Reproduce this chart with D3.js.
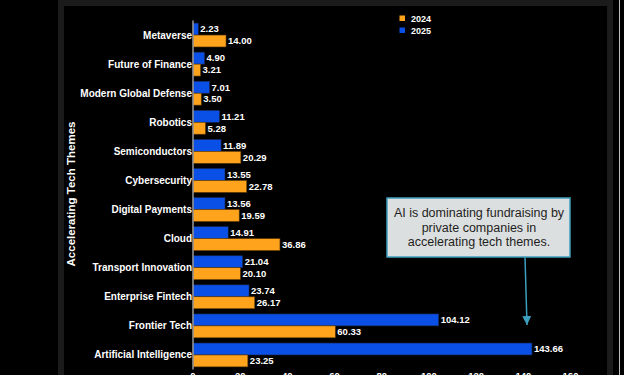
<!DOCTYPE html>
<html>
<head>
<meta charset="utf-8">
<script src="https://cdn.jsdelivr.net/npm/d3@7"></script>
<style>
  html, body { margin: 0; padding: 0; background: #000; }
  svg { display: block; }
  .catLabel, .valLabel, .tickLabel, .legendLabel, .axisTitle { font-family: "Liberation Sans", Arial, sans-serif; font-weight: bold; fill: #fff; }
</style>
</head>
<body>
<div id="chart"></div>
<script>
// categories top to bottom
var themes = ["Metaverse", "Future of Finance", "Modern Global Defense", "Robotics", "Semiconductors",
    "Cybersecurity", "Digital Payments", "Cloud", "Transport Innovation", "Enterprise Fintech",
    "Frontier Tech", "Artificial Intelligence"];
var values2025 = [2.23, 4.90, 7.01, 11.21, 11.89, 13.55, 13.56, 14.91, 21.04, 23.74, 104.12, 143.66];
var values2024 = [14.00, 3.21, 3.50, 5.28, 20.29, 22.78, 19.59, 36.86, 20.10, 26.17, 60.33, 23.25];
var xTicks = [0, 20, 40, 60, 80, 100, 120, 140, 160];
var seriesNames = ["2024", "2025"];
var noteLines = ["AI is dominating fundraising by", "private companies in", "accelerating tech themes."];

var w = 624;
var h = 375;
var orange = "#ffa21c";
var blue = "#0b50e6";

var svg = d3.select("#chart").append("svg").attr("width", w).attr("height", h);

// dark frame around the slide area
svg.append("rect").attr("x", 58).attr("y", -10).attr("width", 555).attr("height", h + 20).attr("fill", "#1b1b1b");
svg.append("rect").attr("x", 64).attr("y", 6).attr("width", 543).attr("height", h).attr("fill", "#000");
svg.append("rect").attr("x", 619).attr("y", 0).attr("width", 1).attr("height", h).attr("fill", "#bdbdbd");

var xScale = d3.scaleLinear().domain([0, 160]).range([193, 570.5]);
var yScale = d3.scaleBand().domain(themes).range([20.5, 369.5]).paddingInner(0.18).paddingOuter(0.09);
var sub = d3.scaleBand().domain(["2025", "2024"]).range([0, yScale.bandwidth()]);

var rows = themes.map(function(t, i) {
    return { theme: t, v2025: values2025[i], v2024: values2024[i] };
});

// bars
var groups = svg.selectAll(".row").data(rows).enter().append("g")
    .attr("class", "row")
    .attr("transform", function(d) { return "translate(0," + yScale(d.theme) + ")"; });

groups.append("rect")
    .attr("x", xScale(0))
    .attr("y", sub("2025"))
    .attr("width", function(d) { return xScale(d.v2025) - xScale(0); })
    .attr("height", sub.bandwidth())
    .attr("fill", blue).attr("stroke", "#1a2a55").attr("stroke-width", 0.6);
groups.append("rect")
    .attr("x", xScale(0))
    .attr("y", sub("2024"))
    .attr("width", function(d) { return xScale(d.v2024) - xScale(0); })
    .attr("height", sub.bandwidth())
    .attr("fill", orange).attr("stroke", "#5a3a08").attr("stroke-width", 0.6);

// value labels
groups.append("text").attr("class", "valLabel")
    .attr("x", function(d) { return xScale(d.v2025) + 2; })
    .attr("y", sub("2025") + sub.bandwidth() / 2)
    .attr("dy", ".35em").style("font-size", "9.5px")
    .text(function(d) { return d.v2025.toFixed(2); });
groups.append("text").attr("class", "valLabel")
    .attr("x", function(d) { return xScale(d.v2024) + 2; })
    .attr("y", sub("2024") + sub.bandwidth() / 2)
    .attr("dy", ".35em").style("font-size", "9.5px")
    .text(function(d) { return d.v2024.toFixed(2); });

// category labels
groups.append("text").attr("class", "catLabel")
    .attr("x", xScale(0) - 1)
    .attr("y", yScale.bandwidth() / 2)
    .attr("dy", ".35em").attr("text-anchor", "end").style("font-size", "10px")
    .text(function(d) { return d.theme; });

// vertical axis line
svg.append("line")
    .attr("x1", xScale(0)).attr("x2", xScale(0))
    .attr("y1", yScale.range()[0]).attr("y2", yScale.range()[1])
    .attr("stroke", "#9a9a9a").attr("stroke-width", 1.5);

// x tick labels (cut by bottom edge, as in the source)
svg.selectAll(".tickLabel").data(xTicks).enter().append("text")
    .attr("class", "tickLabel")
    .attr("x", function(d) { return xScale(d); })
    .attr("y", 379)
    .attr("text-anchor", "middle").style("font-size", "9.5px")
    .text(function(d) { return d; });

// axis title
svg.append("text").attr("class", "axisTitle")
    .attr("transform", "translate(75,194) rotate(-90)")
    .attr("text-anchor", "middle").style("font-size", "11.5px")
    .text("Accelerating Tech Themes");

// legend
var legendColors = [orange, blue];
seriesNames.forEach(function(s, i) {
    svg.append("rect").attr("x", 399.5).attr("y", 15.5 + i * 12).attr("width", 5.5).attr("height", 5.5)
        .attr("fill", legendColors[i]);
    svg.append("text").attr("class", "legendLabel")
        .attr("x", 411).attr("y", 18.5 + i * 12).attr("dy", ".35em")
        .style("font-size", "9px").text(s);
});

// annotation box + arrow
svg.append("rect").attr("x", 387).attr("y", 198).attr("width", 183).attr("height", 59)
    .attr("fill", "#dcdfdf").attr("stroke", "#3d9fbf").attr("stroke-width", 1.5);
noteLines.forEach(function(line, i) {
    svg.append("text")
        .attr("x", 479).attr("y", 213 + i * 14.5).attr("dy", ".35em")
        .attr("text-anchor", "middle")
        .style("font-family", "'Liberation Sans', Arial, sans-serif")
        .style("font-size", "12.5px").style("fill", "#1e1e1e")
        .text(line);
});
svg.append("defs").append("marker")
    .attr("id", "arrowHead").attr("viewBox", "0 0 10 10")
    .attr("refX", 10).attr("refY", 5)
    .attr("markerWidth", 9).attr("markerHeight", 9)
    .attr("markerUnits", "userSpaceOnUse")
    .attr("orient", "auto")
    .append("path").attr("d", "M0,0 L10,5 L0,10 Z").attr("fill", "#3d9fbf");
svg.append("line")
    .attr("x1", 525).attr("y1", 257.5).attr("x2", 527).attr("y2", 325)
    .attr("stroke", "#3d9fbf").attr("stroke-width", 1.5)
    .attr("marker-end", "url(#arrowHead)");
</script>
</body>
</html>
